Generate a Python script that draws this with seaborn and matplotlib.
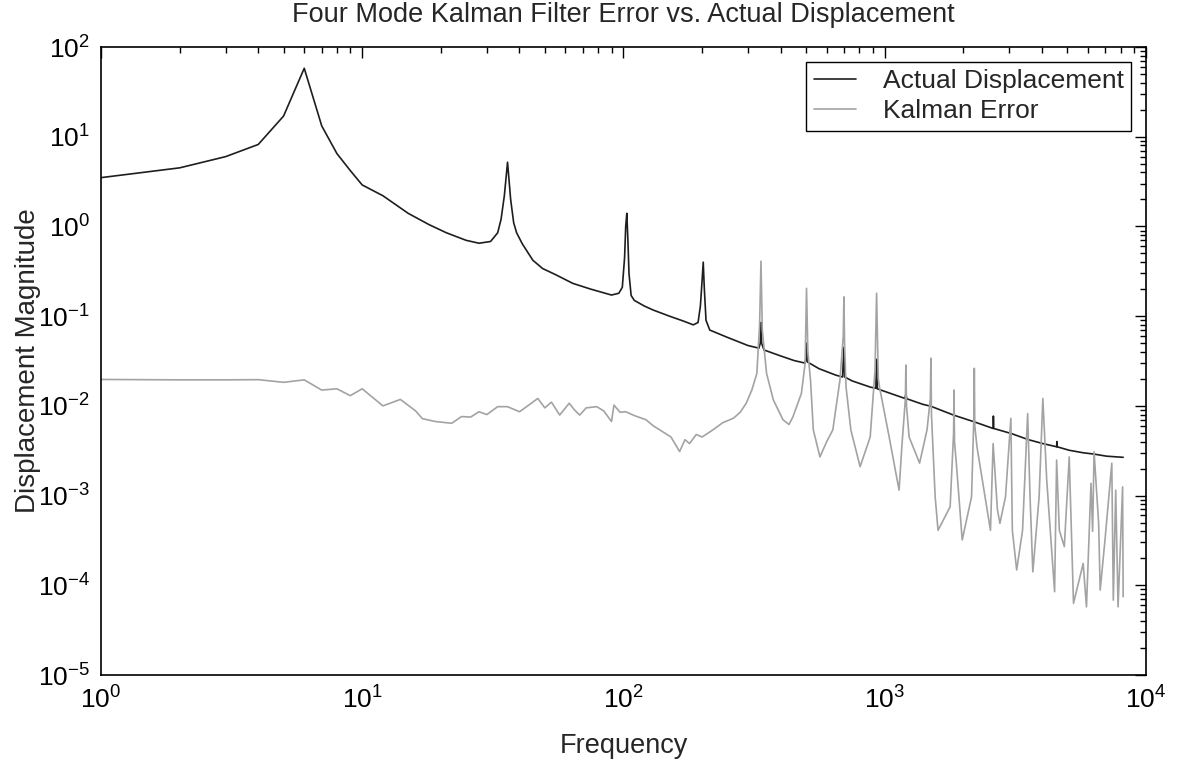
import numpy as np
import pandas as pd
import matplotlib
matplotlib.use("Agg")
import matplotlib.pyplot as plt
import seaborn as sns

# ---- data ----
act_freq = [1, 2, 3, 4, 5, 6, 7, 8, 9, 10, 12, 15, 18, 21, 25, 28, 31, 33, 34, 35,
            36, 37, 38, 39, 41, 45, 49, 55, 64, 75, 90, 96, 99, 101, 102, 103, 104,
            105, 107, 110, 120, 130, 150, 170, 185, 193, 197, 200, 202, 204, 207,
            214, 250, 300, 330, 334, 336, 338, 345, 400, 450, 495, 500, 502, 505,
            560, 650, 690, 698, 703, 750, 880, 925, 931, 937, 1000, 1195, 1205,
            1215, 1400, 1503, 1833, 2214, 2600, 2606, 2615, 3063, 3549, 4030, 4553,
            4560, 4570, 5085, 5754, 6330, 7063, 8180]
act_mag = [3.5, 4.5, 6.0, 8.2, 17, 58, 13.2, 6.5, 4.2, 2.9, 2.2, 1.4, 1.05, 0.85,
           0.70, 0.65, 0.68, 0.85, 1.2, 2.2, 5.2, 2.0, 1.1, 0.85, 0.64, 0.42, 0.34,
           0.29, 0.232, 0.20, 0.172, 0.18, 0.21, 0.45, 1.0, 1.4, 0.7, 0.3, 0.17,
           0.15, 0.13, 0.117, 0.10, 0.088, 0.080, 0.085, 0.13, 0.25, 0.40, 0.2,
           0.09, 0.070, 0.058, 0.047, 0.044, 0.05, 0.085, 0.05, 0.042, 0.036,
           0.032, 0.030, 0.034, 0.05, 0.031, 0.026, 0.022, 0.021, 0.045, 0.021,
           0.019, 0.0162, 0.0157, 0.033, 0.0155, 0.0145, 0.0121, 0.0135, 0.012,
           0.0104, 0.0099, 0.0079, 0.0066, 0.0056, 0.0077, 0.0056, 0.0049, 0.0042,
           0.0038, 0.0035, 0.0040, 0.0035, 0.0032, 0.0030, 0.0029, 0.00275, 0.00267]

err_freq = [1, 2, 3, 4, 5, 6, 7, 8, 9, 10, 12, 14, 16, 17, 19, 22, 24, 26, 28, 30,
            33, 36, 40, 44, 47, 50, 53, 57, 62, 65, 68, 72, 79, 84, 90, 92, 97, 102,
            110, 122, 130, 142, 152, 164, 172, 179, 190, 200, 220, 240, 264, 280,
            295, 310, 324, 332, 336, 340, 353, 375, 408, 430, 445, 480, 496, 502,
            508, 520, 533, 565, 600, 633, 674, 694, 698, 702, 711, 742, 805, 880,
            918, 931, 945, 955, 1040, 1135, 1163, 1200, 1205, 1212, 1240, 1360,
            1452, 1495, 1503, 1510, 1560, 1600, 1780, 1835, 1842, 1850, 1880, 1980,
            2150, 2195, 2203, 2212, 2255, 2540, 2600, 2700, 2760, 2900, 3040, 3080,
            3200, 3370, 3525, 3600, 3690, 3900, 4030, 4170, 4470, 4550, 4660, 4870,
            5085, 5280, 5750, 5920, 6160, 6250, 6330, 6590, 6680, 6970, 7400, 7500,
            7660, 7820, 8140, 8180]
err_mag = [0.0197, 0.0195, 0.0195, 0.0196, 0.0183, 0.0195, 0.0150, 0.0155, 0.0130,
           0.0155, 0.0100, 0.0118, 0.0088, 0.0072, 0.0067, 0.0064, 0.0076, 0.0075,
           0.0086, 0.0080, 0.0098, 0.0098, 0.0086, 0.0105, 0.0121, 0.0095, 0.0110,
           0.0079, 0.0107, 0.0090, 0.0079, 0.0095, 0.0098, 0.0088, 0.0067, 0.0102,
           0.0085, 0.0086, 0.0078, 0.0070, 0.0060, 0.0051, 0.0045, 0.0031, 0.0042,
           0.0038, 0.0048, 0.0045, 0.0054, 0.0065, 0.0073, 0.0085, 0.0107, 0.015,
           0.023, 0.08, 0.41, 0.07, 0.023, 0.0116, 0.0070, 0.0062, 0.0075, 0.0138,
           0.030, 0.204, 0.04, 0.0194, 0.0054, 0.0027, 0.0040, 0.0054, 0.0194, 0.06,
           0.164, 0.05, 0.0163, 0.0054, 0.0021, 0.0045, 0.025, 0.18, 0.02, 0.0163,
           0.0045, 0.00115, 0.0035, 0.0120, 0.0285, 0.01, 0.0045, 0.0023, 0.0054,
           0.012, 0.034, 0.008, 0.00097, 0.00041, 0.00075, 0.005, 0.015, 0.004,
           0.0023, 0.00032, 0.00097, 0.008, 0.0262, 0.006, 0.0035, 0.00041, 0.0038,
           0.0007, 0.00049, 0.00097, 0.00726, 0.00041, 0.000148, 0.00041, 0.0082,
           0.00097, 0.000141, 0.00097, 0.0121, 0.00149, 0.0000848, 0.00249, 0.00041,
           0.00027, 0.0027, 0.000063, 0.000175, 0.0000575, 0.00137, 0.0004, 0.00308,
           0.00049, 0.0000885, 0.00032, 0.0023, 0.0000684, 0.00115, 0.0000575,
           0.00125, 0.0000745]

series_names = ["Actual Displacement", "Kalman Error"]
title = "Four Mode Kalman Filter Error vs. Actual Displacement"
xlabel = "Frequency"
ylabel = "Displacement Magnitude"

df = pd.concat([
    pd.DataFrame({"freq": act_freq, "mag": act_mag, "series": series_names[0]}),
    pd.DataFrame({"freq": err_freq, "mag": err_mag, "series": series_names[1]}),
], ignore_index=True)

sns.set_style("white")
plt.rcParams["font.family"] = ["Liberation Sans", "DejaVu Sans"]
plt.rcParams["mathtext.fontset"] = "custom"
plt.rcParams["mathtext.rm"] = "Liberation Sans"
plt.rcParams["mathtext.it"] = "Liberation Sans"

fig = plt.figure(figsize=(11.78, 7.61), dpi=100)
ax = fig.add_axes([0.0857, 0.113, 0.8871, 0.8252])

palette = {series_names[0]: "#1e1e1e", series_names[1]: "#a3a3a3"}
sns.lineplot(data=df, x="freq", y="mag", hue="series", palette=palette,
             estimator=None, linewidth=1.2, ax=ax)

ax.set_xscale("log")
ax.set_yscale("log")
ax.set_xlim(1, 1e4)
ax.set_ylim(1e-5, 1e2)

ax.xaxis.set_major_locator(matplotlib.ticker.LogLocator(base=10, numticks=10))
ax.yaxis.set_major_locator(matplotlib.ticker.LogLocator(base=10, numticks=10))
ax.xaxis.set_minor_locator(matplotlib.ticker.LogLocator(base=10, subs=np.arange(2, 10), numticks=20))
ax.yaxis.set_minor_locator(matplotlib.ticker.LogLocator(base=10, subs=np.arange(2, 10), numticks=20))
ax.xaxis.set_minor_formatter(matplotlib.ticker.NullFormatter())
ax.yaxis.set_minor_formatter(matplotlib.ticker.NullFormatter())

ax.tick_params(which="both", direction="in", top=True, right=True, colors="black",
               width=1)
ax.tick_params(which="major", length=8, labelsize=19, pad=8)
ax.tick_params(which="minor", length=4)
for s in ax.spines.values():
    s.set_color("black")
    s.set_linewidth(1.2)

ax.set_title(title, fontsize=19.5, pad=18)
ax.set_xlabel(xlabel, fontsize=19.5, labelpad=14)
ax.set_ylabel(ylabel, fontsize=20, labelpad=-2)

handles, labels = ax.get_legend_handles_labels()
leg = ax.legend(handles, labels, loc="upper right", fontsize=19, frameon=True,
                fancybox=False, edgecolor="black", framealpha=1,
                handlelength=1.6, borderaxespad=0.55, labelspacing=0.2,
                borderpad=0.3, handletextpad=1.0, bbox_to_anchor=(1, 1))
leg.get_frame().set_linewidth(1.0)

fig.savefig("out.png", dpi=100)
